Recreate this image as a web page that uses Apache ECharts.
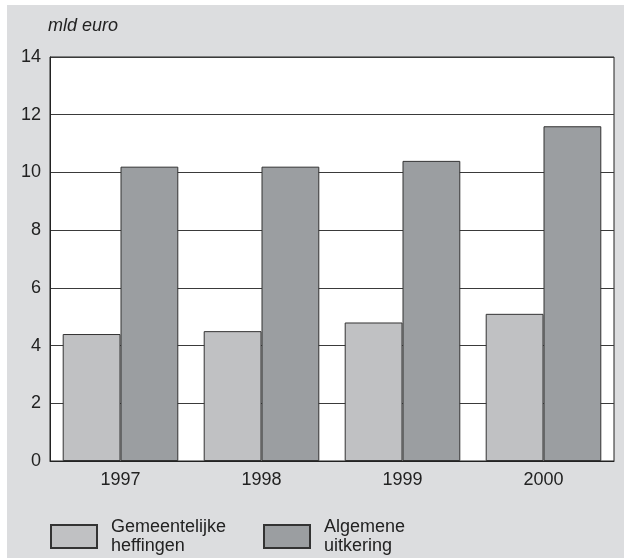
<!DOCTYPE html>
<html><head><meta charset="utf-8">
<script src="https://cdn.jsdelivr.net/npm/echarts@6/dist/echarts.min.js"></script>
<style>html,body{margin:0;padding:0;background:#fff}#c{width:624px;height:558px}</style>
</head><body><div id="c"></div>
<script>
const categories = ['1997','1998','1999','2000'];
const gemeentelijke = [4.4, 4.5, 4.8, 5.1];
const algemene = [10.2, 10.2, 10.4, 11.6];
const seriesNames = ['Gemeentelijke\nheffingen', 'Algemene\nuitkering'];
const unitLabel = 'mld euro';

const font = 'Liberation Sans, Arial, sans-serif';
const legendText = {fontFamily:font, fontSize:18, color:'#222', lineHeight:19, padding:[0,0,13,9]};
const chart = echarts.init(document.getElementById('c'));
chart.setOption({
  animation: false,
  backgroundColor: '#fff',
  graphic: [{type:'rect', z:-10, shape:{x:7,y:5,width:617,height:553}, style:{fill:'#dcdddf'}}],
  title: {text: unitLabel, left: 48, top: 17, padding:0, textStyle:{fontFamily:font, fontSize:18, fontStyle:'italic', fontWeight:'normal', color:'#222'}},
  legend: [
    {data:[seriesNames[0]], left:50, top:511, padding:0, itemWidth:46, itemHeight:23, icon:'rect', textStyle:legendText},
    {data:[seriesNames[1]], left:263, top:511, padding:0, itemWidth:46, itemHeight:23, icon:'rect', textStyle:legendText}
  ],
  grid: {left:50, right:10, top:57, bottom:97, show:true, backgroundColor:'#fff', borderColor:'#222', borderWidth:1, containLabel:false},
  xAxis: {type:'category', data:categories,
    axisLine:{lineStyle:{color:'#222', width:1}}, axisTick:{show:false},
    axisLabel:{fontFamily:font, fontSize:18, color:'#222', margin:10}},
  yAxis: {type:'value', min:0, max:14, interval:2,
    axisLine:{show:true, lineStyle:{color:'#222'}}, axisTick:{show:false},
    splitLine:{lineStyle:{color:'#3a3a3a', width:1}},
    axisLabel:{fontFamily:font, fontSize:18, color:'#222', margin:9}},
  series: [
    {name:seriesNames[0], type:'bar', data:gemeentelijke, barGap:'0%', barCategoryGap:'18%',
     itemStyle:{color:'#c0c1c3', borderColor:'#333', borderWidth:1}},
    {name:seriesNames[1], type:'bar', data:algemene, barGap:'0%', barCategoryGap:'18%',
     itemStyle:{color:'#9b9ea1', borderColor:'#333', borderWidth:1}}
  ]
});
</script></body></html>
